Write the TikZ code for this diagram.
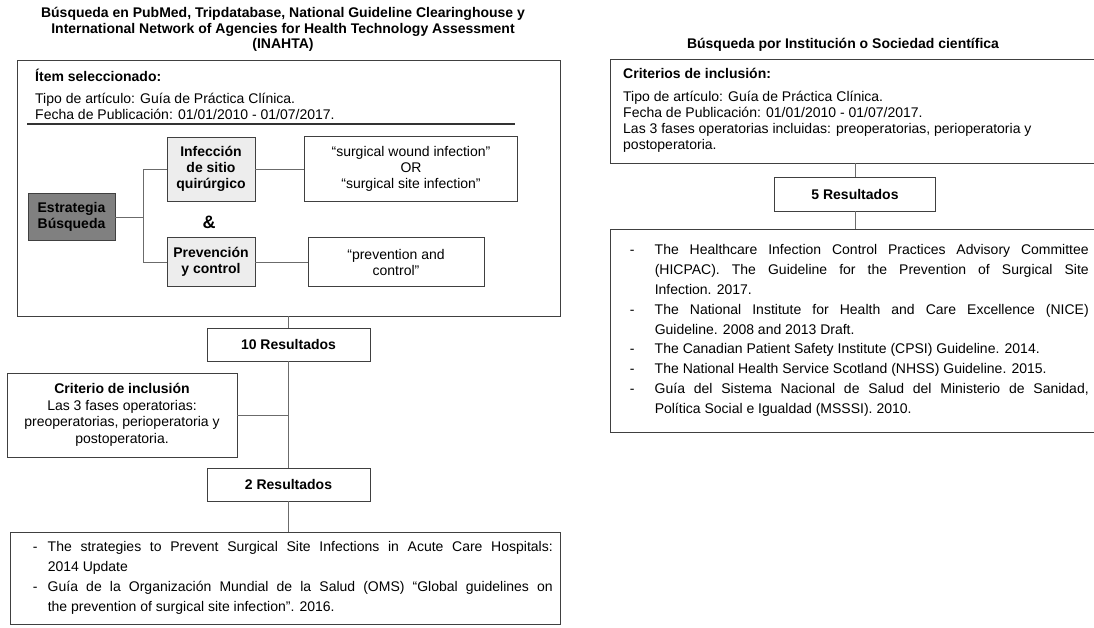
\documentclass[tikz,border=0pt]{standalone}
\usepackage{fontspec}
\setmainfont{Liberation Sans}
\newlength{\dashind}
\newlength{\dashpos}
\newcommand{\litem}[1]{\noindent\hangindent=\dashind\hangafter=1\makebox[\dashind][l]{\hspace{\dashpos}-}#1\par}
\begin{document}
\begin{tikzpicture}[x=1pt,y=-1pt,
  bx/.style={draw=black!75, line width=0.9pt, inner sep=0pt},
  cn/.style={draw=black!58, line width=0.9pt},
  ttl/.style={font=\fontsize{14}{15.5}\selectfont\bfseries, align=center, inner sep=0pt},
  hd/.style={font=\fontsize{14}{16}\selectfont\bfseries, anchor=west, inner sep=0pt},
  bd/.style={font=\fontsize{14}{16}\selectfont, anchor=west, align=left, inner sep=0pt},
  lb/.style={bx, font=\fontsize{14}{16}\selectfont\bfseries, align=center},
  qt/.style={bx, font=\fontsize{14}{16}\selectfont, align=center},
  lst/.style={font=\fontsize{14}{19.8}\selectfont, inner sep=0pt, align=justify},
]
\useasboundingbox (0,0) rectangle (1094,628);
\fill[white] (0,0) rectangle (1094,628);

% ---------- left column ----------
\node[ttl] (tL) at (283,29.5) {Búsqueda en PubMed, Tripdatabase, National Guideline Clearinghouse y\\International Network of Agencies for Health Technology Assessment\\(INAHTA)};
\node[bx, minimum width=543pt, minimum height=256pt] (bigL) at (288.5,188) {};
\node[hd] (item) at (35,75) {Ítem seleccionado:};
\node[bd] (tipoL) at (35,106) {Tipo de artículo: Guía de Práctica Clínica.\\Fecha de Publicación: 01/01/2010 - 01/07/2017.};
\coordinate (ra) at (27,124);
\coordinate (rb) at (515,124);
\draw[black!80, line width=1.6pt] (ra) -- (rb);

\node[lb, fill=black!50, minimum width=87pt, minimum height=47pt] (est) at (71.5,217) {Estrategia\\Búsqueda};
\node[lb, fill=black!7, minimum width=88pt, minimum height=64pt] (inf) at (211,169) {Infección\\de sitio\\quirúrgico};
\node[lb, fill=black!7, minimum width=88pt, minimum height=49pt] (prev) at (211,262) {Prevención\\y control};
\node[font=\fontsize{18}{18}\selectfont\bfseries, inner sep=0pt] (amp) at (209,222) {\&};
\node[qt, minimum width=213pt, minimum height=65pt] (q1) at (411,169) {“surgical wound infection”\\OR\\“surgical site infection”};
\node[qt, minimum width=176pt, minimum height=49pt] (q2) at (396,262) {“prevention and\\control”};

\coordinate (br) at (143,217);
\draw[cn] (est.east) -- (br);
\draw[cn] (inf.west) -- (inf.west -| br) -- (prev.west -| br) -- (prev.west);
\draw[cn] (inf.east) -- (q1.west);
\draw[cn] (prev.east) -- (q2.west);

\node[lb, minimum width=163pt, minimum height=33pt] (r10) at (288.5,344.5) {10 Resultados};
\node[bx, minimum width=230pt, minimum height=84pt, align=center, font=\fontsize{14}{16.5}\selectfont] (crit) at (122,415) {\textbf{Criterio de inclusión}\\Las 3 fases operatorias:\\preoperatorias, perioperatoria y\\postoperatoria.};
\node[lb, minimum width=163pt, minimum height=33pt] (r2) at (288.5,484.5) {2 Resultados};
\node[bx, minimum width=550pt, minimum height=92pt] (botL) at (285,578) {};
\node[lst, text width=543pt, anchor=west] (botLt) at (botL.west) {%
\setlength{\dashpos}{23pt}\setlength{\dashind}{38pt}\tolerance=10000\hyphenpenalty=10000
\litem{The strategies to Prevent Surgical Site Infections in Acute Care Hospitals:\linebreak 2014 Update}
\litem{Guía de la Organización Mundial de la Salud (OMS) “Global guidelines on\linebreak the prevention of surgical site infection”. 2016.}};

\draw[cn] (bigL.south) -- (r10.north);
\draw[cn] (r10.south) -- (r2.north);
\draw[cn] (crit.east) -- (crit.east -| r10.south);
\draw[cn] (r2.south) -- (r2.south |- botL.north);

% ---------- right column ----------
\node[ttl] (tR) at (843,45) {Búsqueda por Institución o Sociedad científica};
\node[bx, minimum width=490pt, minimum height=104pt] (headR) at (855,111) {};
\node[hd] (crR) at (623,73) {Criterios de inclusión:};
\node[bd] (tipoR) at (623,122) {Tipo de artículo: Guía de Práctica Clínica.\\Fecha de Publicación: 01/01/2010 - 01/07/2017.\\Las 3 fases operatorias incluidas: preoperatorias, perioperatoria y\\postoperatoria.};
\node[lb, minimum width=161pt, minimum height=34pt] (r5) at (855,194) {5 Resultados};
\node[bx, minimum width=490pt, minimum height=203pt] (listR) at (855,330.5) {};
\node[lst, text width=479pt, anchor=west] (listRt) at (listR.west) {%
\setlength{\dashpos}{20pt}\setlength{\dashind}{45pt}\tolerance=10000\hyphenpenalty=10000
\litem{The Healthcare Infection Control Practices Advisory Committee\linebreak (HICPAC). The Guideline for the Prevention of Surgical Site\linebreak Infection. 2017.}
\litem{The National Institute for Health and Care Excellence (NICE)\linebreak Guideline. 2008 and 2013 Draft.}
\litem{The Canadian Patient Safety Institute (CPSI) Guideline. 2014.}
\litem{The National Health Service Scotland (NHSS) Guideline. 2015.}
\litem{Guía del Sistema Nacional de Salud del Ministerio de Sanidad,\linebreak Política Social e Igualdad (MSSSI). 2010.}};
\draw[cn] (headR.south) -- (r5.north);
\draw[cn] (r5.south) -- (listR.north);
\end{tikzpicture}
\end{document}
